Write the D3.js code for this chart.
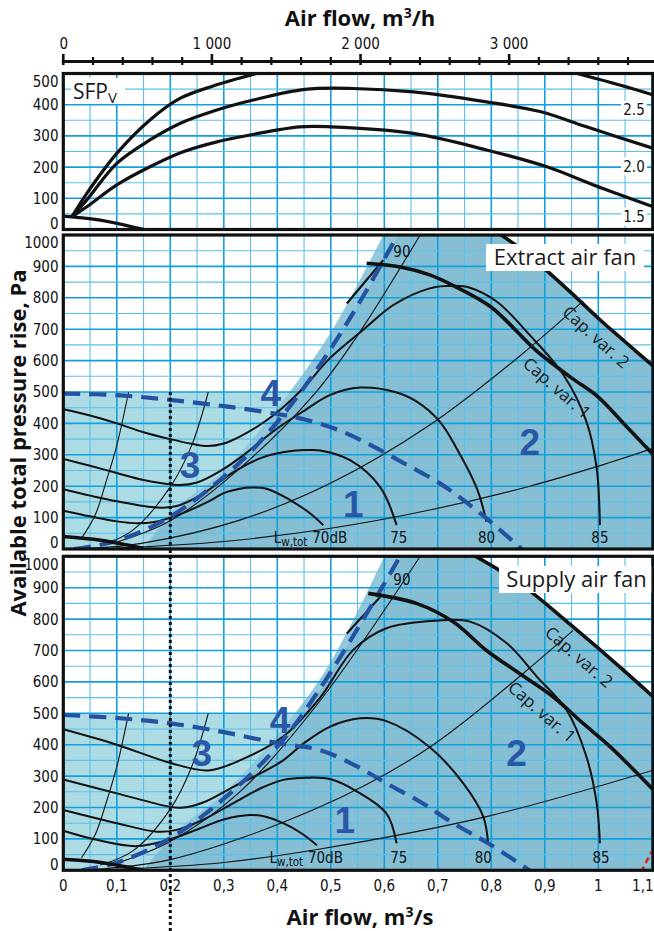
<!DOCTYPE html>
<html><head><meta charset="utf-8">
<script src="https://cdn.jsdelivr.net/npm/d3@7"></script>
<style>
body{margin:0;background:#fff;}
svg{display:block;}
.tk{font-family:'Liberation Sans Narrow','DejaVu Sans Condensed','Roboto',sans-serif;font-size:15px;fill:#111;}
.ttl{font-family:'Open Sans','Noto Sans',sans-serif;font-weight:700;font-size:22px;fill:#111;}
.lbl{font-family:'Open Sans','Noto Sans',sans-serif;fill:#1a1a1a;}
.num{font-family:'Liberation Sans','Arial',sans-serif;font-weight:700;font-size:37px;fill:#2b58a6;}
</style></head><body>
<svg id="c" width="654" height="931"></svg>
<script>
// ---------------- DATA ----------------
const flowTicks = [0,0.1,0.2,0.3,0.4,0.5,0.6,0.7,0.8,0.9,1.0,1.1];
const flowTickLabels = ["0","0,1","0,2","0,3","0,4","0,5","0,6","0,7","0,8","0,9","1","1,1"];
const flowHourTicks = [0,1000,2000,3000];
const flowHourLabels = ["0","1 000","2 000","3 000"];
const sfpTicks = [0,100,200,300,400,500];
const pressureTicks = [0,100,200,300,400,500,600,700,800,900,1000];
const sfpCurveLabels = ["2.5","2.0","1.5"];
const sfpCurveLabelValues = [383,203,41];
const soundLabels = ["70dB","75","80","85"];
const soundLabelFlowsExtract = [0.498,0.627,0.791,1.003];
const soundLabelFlowsSupply = [0.49,0.627,0.785,1.005];

// SFP panel
const sfpTop = [[0.016,41],[0.044,116],[0.1,244],[0.162,351],[0.218,420],[0.28,460],[0.368,503]];
const sfpMid = [[0.016,41],[0.044,95],[0.1,212],[0.162,287],[0.218,340],[0.287,383],[0.355,415],[0.452,449],[0.542,452],[0.654,441],[0.791,409],[0.891,378],[0.978,329],[1.103,260]];
const sfpLow = [[0.016,41],[0.044,73],[0.1,143],[0.162,201],[0.224,249],[0.287,281],[0.349,303],[0.442,329],[0.5,329],[0.654,308],[0.791,255],[0.904,201],[0.991,143],[1.103,73]];
const sfpTopRight = [[0.953,503],[1.04,463],[1.103,431]];
const sfpBottom = [[0,43],[0.069,30],[0.15,0]];

// Extract air fan
const exC1 = [[0,445],[0.05,425],[0.1,400],[0.15,372],[0.2,350],[0.24,335],[0.27,328],[0.3,336],[0.33,358],[0.37,398],[0.41,450],[0.45,515],[0.498,607],[0.564,703],[0.617,777],[0.685,830],[0.73,838],[0.76,832],[0.81,788],[0.872,681],[0.935,554],[0.978,405],[0.997,257],[1.003,76]];
const exC2 = [[0,287],[0.05,265],[0.1,242],[0.15,220],[0.218,204],[0.25,212],[0.29,245],[0.337,299],[0.368,342],[0.405,390],[0.45,440],[0.498,490],[0.555,514],[0.62,500],[0.66,470],[0.704,405],[0.735,321],[0.773,193],[0.791,87]];
const exC3 = [[0,190],[0.05,170],[0.1,152],[0.175,132],[0.21,136],[0.26,175],[0.318,245],[0.37,290],[0.41,308],[0.455,315],[0.48,314],[0.536,283],[0.592,198],[0.623,76]];
const exC4 = [[0,122],[0.05,104],[0.1,88],[0.137,82],[0.17,86],[0.22,112],[0.27,150],[0.3,178],[0.33,192],[0.352,196],[0.38,192],[0.424,156],[0.461,114],[0.486,76]];
const exCap1 = [[0.567,910],[0.63,898],[0.685,873],[0.73,838],[0.8,770],[0.885,630],[0.95,545],[1.0,484],[1.05,395],[1.103,300]];
const exCap2 = [[0.81,1010],[0.86,950],[0.904,886],[0.95,815],[1.0,735],[1.05,660],[1.103,582]];
const exSeg = [[0.53,782],[0.598,920]];
const exT1 = [[0.1,3],[0.3,24],[0.5,66],[0.685,124],[0.872,200],[1.0,264],[1.103,321]];
const exT2 = [[0.05,2],[0.146,18],[0.33,92],[0.5,210],[0.685,395],[0.85,610],[0.972,790]];
const exT3 = [[0.1,22],[0.2,90],[0.33,257],[0.47,495],[0.55,680],[0.667,1000]];
const exS1 = [[0.034,34],[0.06,110],[0.081,220],[0.1,330],[0.122,500]];
const exS2 = [[0.075,13],[0.13,60],[0.2,198],[0.24,330],[0.271,500]];
const exBottom = [[0,40],[0.07,28],[0.15,2]];
const exD1 = [[0,495],[0.1,490],[0.2,475],[0.3,455],[0.4,430],[0.455,411],[0.52,375],[0.58,326],[0.64,270],[0.704,209],[0.76,140],[0.81,70],[0.87,-20]];
const exD2 = [[0.02,0],[0.1,26],[0.2,103],[0.3,230],[0.368,342],[0.449,512],[0.536,735],[0.625,1000]];
const exBandEdge = [[0.15,0],[0.206,124],[0.3,250],[0.4,448],[0.5,690],[0.598,1000]];
const exDarkEdge = [[0.15,0],[0.206,110],[0.3,230],[0.368,342],[0.449,512],[0.536,735],[0.625,1000]];

// Supply air fan
const suC1 = [[0,449],[0.1,400],[0.2,342],[0.271,318],[0.33,350],[0.411,426],[0.48,550],[0.542,702],[0.604,771],[0.698,795],[0.76,792],[0.829,723],[0.885,617],[0.941,510],[0.978,361],[0.997,213],[1.003,86]];
const suC2 = [[0,289],[0.1,245],[0.2,202],[0.22,199],[0.26,215],[0.318,266],[0.37,310],[0.411,350],[0.45,405],[0.498,457],[0.555,484],[0.604,475],[0.685,392],[0.748,276],[0.785,171],[0.794,86]];
const suC3 = [[0,192],[0.1,150],[0.175,123],[0.21,128],[0.26,160],[0.318,214],[0.37,262],[0.411,288],[0.455,295],[0.5,290],[0.55,250],[0.604,181],[0.623,86]];
const suC4 = [[0,126],[0.06,98],[0.137,77],[0.2,99],[0.256,134],[0.3,162],[0.349,176],[0.38,170],[0.411,150],[0.445,118],[0.474,80]];
const suCap1 = [[0.57,882],[0.66,850],[0.73,790],[0.791,700],[0.85,630],[0.916,552],[0.97,470],[1.022,394],[1.103,256]];
const suCap2 = [[0.76,1010],[0.854,913],[0.953,775],[1.04,648],[1.103,552]];
const suSeg = [[0.53,754],[0.592,870]];
const suT1 = [[0.1,3],[0.3,25],[0.48,68],[0.791,171],[1.103,319]];
const suT2 = [[0.05,2],[0.2,34],[0.48,202],[0.685,392],[0.953,764]];
const suT3 = [[0.1,23],[0.2,92],[0.33,250],[0.48,540],[0.667,1000]];
const suS1 = [[0.034,40],[0.06,115],[0.081,220],[0.1,330],[0.122,500]];
const suS2 = [[0.069,17],[0.13,62],[0.2,195],[0.24,330],[0.271,500]];
const suBottom = [[0,35],[0.07,25],[0.15,0]];
const suD1 = [[0,495],[0.1,485],[0.2,468],[0.3,440],[0.4,405],[0.48,383],[0.55,330],[0.604,277],[0.67,215],[0.729,150],[0.8,80],[0.88,-10]];
const suD2 = [[0.034,0],[0.1,24],[0.2,102],[0.3,228],[0.405,404],[0.498,626],[0.629,998]];
const suBandEdge = [[0.15,0],[0.206,117],[0.3,245],[0.4,430],[0.498,658],[0.601,1004]];
const suDarkEdge = [[0.15,0],[0.206,108],[0.3,228],[0.405,404],[0.498,626],[0.63,1000]];
const suRed = [[1.08,-5],[1.1,60]];

// ---------------- DRAW ----------------
const svg = d3.select("#c");
const XL = 63.3, XR = 653;
const xs = d3.scaleLinear().domain([0,1.1]).range([63.3,651.8]);
const xh = d3.scaleLinear().domain([0,1.1*3600]).range([63.3,651.8]);

const COL_LIGHT = "#acdbe4", COL_BAND = "#93c8dc", COL_DARK = "#86bed4";
const GRID_MAJ = "#12a0dc", GRID_MIN = "#5cc0ea";
const DASH_COL = "#2452a0";

function smooth(ys){ return d3.line().x(d=>xs(d[0])).y(d=>ys(d[1])).curve(d3.curveCatmullRom.alpha(0.5)); }
function linear(ys){ return d3.line().x(d=>xs(d[0])).y(d=>ys(d[1])); }
function joinPaths(parts){ return parts.map((p,i)=> i===0? p : p.replace(/^M/,"L")).join("")+"Z"; }

function panel(id, ys, top, bottom){
  const g = svg.append("g");
  g.append("clipPath").attr("id","clip"+id).append("rect")
    .attr("x",XL).attr("y",top).attr("width",XR-XL).attr("height",bottom-top);
  const inner = g.append("g").attr("clip-path","url(#clip"+id+")");
  inner.append("rect").attr("x",XL).attr("y",top).attr("width",XR-XL).attr("height",bottom-top).attr("fill","#fff");
  return {g, inner};
}

function grid(inner, ys, yMax, top, bottom){
  const gl = inner.append("g");
  const xv = d3.range(0,1.1001,0.05);
  xv.forEach((v,i)=>{
    const maj = i%2===0;
    gl.append("line").attr("x1",xs(v)).attr("x2",xs(v)).attr("y1",top).attr("y2",bottom)
      .attr("stroke",maj?GRID_MAJ:GRID_MIN).attr("stroke-width",maj?1.6:1.1);
  });
  const step = yMax/ (yMax===500?10:20);
  d3.range(0,yMax+0.1,step).forEach((v,i)=>{
    const maj = i%2===0;
    gl.append("line").attr("x1",XL).attr("x2",XR).attr("y1",ys(v)).attr("y2",ys(v))
      .attr("stroke",maj?GRID_MAJ:GRID_MIN).attr("stroke-width",maj?1.6:1.1);
  });
}

function yTicks(g, ys, ticks, top, bottom){
  ticks.forEach(v=>{
    let y = Math.min(Math.max(ys(v), top+8), bottom-6);
    g.append("text").attr("class","tk").attr("x",58.5).attr("y",y).attr("dy","0.36em")
      .attr("text-anchor","end").text(v);
  });
}

function frame(g, top, bottom){
  g.append("rect").attr("x",XL).attr("y",top).attr("width",XR-XL).attr("height",bottom-top)
    .attr("fill","none").attr("stroke","#111").attr("stroke-width",3.2);
}

function stroke(inner, data, ys, w, col, dash){
  const p = inner.append("path").attr("d",smooth(ys)(data)).attr("fill","none")
    .attr("stroke",col||"#111").attr("stroke-width",w).attr("stroke-linecap","butt").attr("stroke-linejoin","round");
  if(dash) p.attr("stroke-dasharray",dash);
  return p;
}

// ---- top axis ----
svg.append("text").attr("class","ttl").attr("x",360).attr("y",26).attr("text-anchor","middle")
  .html("Air flow, m<tspan font-size='14' dy='-8'>3</tspan><tspan dy='8'>/h</tspan>");
svg.append("line").attr("x1",XL-1.5).attr("x2",654).attr("y1",61.5).attr("y2",61.5).attr("stroke","#111").attr("stroke-width",3);
d3.range(0,3961,200).forEach(v=>{
  const maj = v%1000===0;
  svg.append("line").attr("x1",xh(v)).attr("x2",xh(v)).attr("y1",maj?54:57).attr("y2",65)
    .attr("stroke","#111").attr("stroke-width",maj?2.6:2.2);
});
flowHourTicks.forEach((v,i)=>{
  svg.append("text").attr("class","tk").attr("x",xh(v)+(i===0?0.5:0)).attr("y",49).attr("text-anchor","middle").text(flowHourLabels[i]);
});

// ---- SFP panel ----
{
  const top=73.5,bottom=229.5;
  const ys = d3.scaleLinear().domain([0,500]).range([bottom,top]);
  const {g,inner} = panel("s", ys, top, bottom);
  grid(inner, ys, 500, top, bottom);
  [sfpTop,sfpMid,sfpLow,sfpTopRight].forEach(d=>stroke(inner,d,ys,3.2));
  stroke(inner,sfpBottom,ys,3.4);
  inner.append("rect").attr("x",71).attr("y",78).attr("width",54).attr("height",26).attr("fill","#fff");
  inner.append("text").attr("class","lbl").attr("x",73).attr("y",99).attr("font-size",21)
    .html("SFP<tspan font-size='15' dy='4'>V</tspan>");
  sfpCurveLabels.forEach((t,i)=>{
    const y = ys(sfpCurveLabelValues[i]);
    inner.append("rect").attr("x",621).attr("y",y-9).attr("width",26).attr("height",18).attr("fill","#fff");
    inner.append("text").attr("class","tk").attr("x",634).attr("y",y).attr("dy","0.36em").attr("text-anchor","middle").text(t);
  });
  frame(g, top, bottom);
  yTicks(g, ys, sfpTicks, top, bottom);
}

function fanPanel(id, top, bottom, D, lab){
  const ys = d3.scaleLinear().domain([0,1000]).range([bottom,top]);
  const {g,inner} = panel(id, ys, top, bottom);
  const sm = smooth(ys);
  inner.append("path").attr("d", linear(ys)([[0,0],[0,500],[1.1,500],[1.1,0]])+"Z").attr("fill",COL_LIGHT);
  inner.append("path").attr("d", joinPaths([sm(D.band), sm(D.dark.slice().reverse())])).attr("fill",COL_BAND);
  const topP = [[D.dark[D.dark.length-1][0],1000],[D.cap2[0][0],1000]];
  inner.append("path").attr("d", joinPaths([sm(D.dark), linear(ys)(topP), sm(D.cap2), linear(ys)([[1.103,D.cap2[D.cap2.length-1][1]],[1.103,0],[0.15,0]])]))
    .attr("fill",COL_DARK);
  grid(inner, ys, 1000, top, bottom);
  [D.t1,D.t2,D.t3,D.s1,D.s2].forEach(d=>stroke(inner,d,ys,1.1));
  [D.c1,D.c2,D.c3,D.c4].forEach(d=>stroke(inner,d,ys,2));
  stroke(inner,D.seg,ys,2.2);
  stroke(inner,D.d1,ys,4.2,DASH_COL,"17,9");
  stroke(inner,D.d2,ys,4.2,DASH_COL,"17,9");
  stroke(inner,D.cap1,ys,3.6);
  stroke(inner,D.cap2,ys,3.6);
  stroke(inner,D.bottom,ys,3.6);
  if(D.red) stroke(inner,D.red,ys,2.6,"#e0241c","6,4");
  const L = D.labels;
  inner.append("text").attr("class","tk").attr("x",xs(0.633)).attr("y",ys(L.p90)).attr("dy","0.35em").attr("text-anchor","middle")
    .attr("font-size",16).text("90");
  D.soundX.forEach((q,i)=>{
    inner.append("text").attr("class","tk").attr("font-size",16).attr("x",xs(q)).attr("y",ys(L.snd)).attr("text-anchor","middle").text(soundLabels[i]);
  });
  inner.append("text").attr("class","tk").attr("font-size",16).attr("x",xs(D.soundX[0])-56).attr("y",ys(L.snd))
    .html("L<tspan font-size='11.5' dy='3'>w,tot</tspan>");
  L.cap.forEach(c=>{
    inner.append("text").attr("class","lbl").attr("font-size",17).attr("text-anchor","middle").attr("dy","0.35em")
      .attr("transform",`translate(${c[0]},${c[1]}) rotate(${c[2]})`).text(c[3]);
  });
  L.nums.forEach(n=>{
    inner.append("text").attr("class","num").attr("x",xs(n[0])).attr("y",ys(n[1])).attr("dy","0.36em").attr("text-anchor","middle").text(n[2]);
  });
  inner.append("rect").attr("x",L.box[0]).attr("y",L.box[1]).attr("width",L.box[2]).attr("height",L.box[3]).attr("fill","#fff");
  inner.append("text").attr("class","lbl").attr("font-size",22).attr("x",L.box[0]+L.box[2]/2).attr("y",L.box[1]+L.box[3]/2).attr("dy","0.35em")
    .attr("text-anchor","middle").text(lab);
  frame(g, top, bottom);
  yTicks(g, ys, pressureTicks, top, bottom);
  return ys;
}

const exYs = fanPanel("e", 235, 549, {
  c1:exC1,c2:exC2,c3:exC3,c4:exC4,cap1:exCap1,cap2:exCap2,seg:exSeg,t1:exT1,t2:exT2,t3:exT3,s1:exS1,s2:exS2,
  bottom:exBottom,d1:exD1,d2:exD2,band:exBandEdge,dark:exDarkEdge,soundX:soundLabelFlowsExtract,
  labels:{p90:946,snd:19,cap:[[596,337,42,"Cap. var. 2"],[557,388,41,"Cap. var. 1"]],
    nums:[[0.542,145,"1"],[0.872,342,"2"],[0.237,268,"3"],[0.388,497,"4"]],box:[486,244,158,27]}
}, "Extract air fan");

const suYs = fanPanel("u", 556.3, 870.3, {
  c1:suC1,c2:suC2,c3:suC3,c4:suC4,cap1:suCap1,cap2:suCap2,seg:suSeg,t1:suT1,t2:suT2,t3:suT3,s1:suS1,s2:suS2,
  bottom:suBottom,d1:suD1,d2:suD2,band:suBandEdge,dark:suDarkEdge,red:suRed,soundX:soundLabelFlowsSupply,
  labels:{p90:925,snd:23,cap:[[579,657,41,"Cap. var. 2"],[542,712,41,"Cap. var. 1"]],
    nums:[[0.526,160,"1"],[0.847,373,"2"],[0.259,373,"3"],[0.405,479,"4"]],box:[499,566,155,27]}
}, "Supply air fan");

// dotted line at 0.2 m3/s
svg.append("line").attr("x1",xs(0.2)).attr("x2",xs(0.2)).attr("y1",exYs(500)).attr("y2",549)
  .attr("stroke","#111").attr("stroke-width",3).attr("stroke-dasharray","3,3");
svg.append("line").attr("x1",xs(0.2)).attr("x2",xs(0.2)).attr("y1",550).attr("y2",931)
  .attr("stroke","#111").attr("stroke-width",3).attr("stroke-dasharray","3,3");

// bottom axis labels
flowTicks.forEach((v,i)=>{
  const last = i===flowTicks.length-1;
  svg.append("text").attr("class","tk").attr("x",last?653.5:xs(v)).attr("y",891)
    .attr("text-anchor",last?"end":"middle").text(flowTickLabels[i]);
});
svg.append("text").attr("class","ttl").attr("x",360).attr("y",925).attr("text-anchor","middle")
  .html("Air flow, m<tspan font-size='14' dy='-8'>3</tspan><tspan dy='8'>/s</tspan>");
svg.append("text").attr("class","ttl").attr("transform","translate(26,443) rotate(-90)").attr("text-anchor","middle")
  .text("Available total pressure rise, Pa");
</script></body></html>
